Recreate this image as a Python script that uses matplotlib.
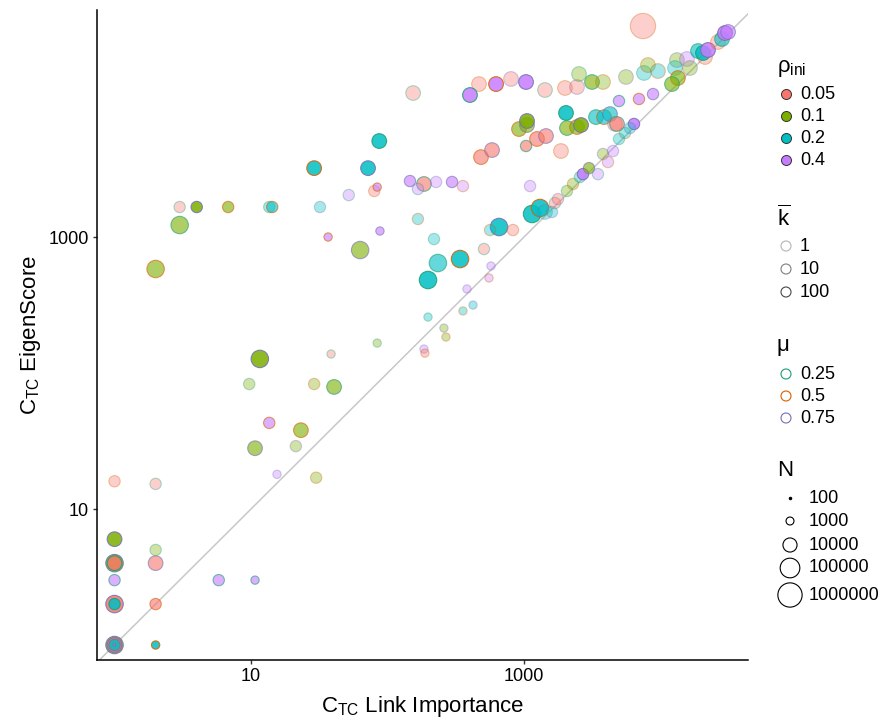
import numpy as np
import matplotlib
matplotlib.use('Agg')
import matplotlib.pyplot as plt
from matplotlib.colors import to_rgba

plt.rcParams['font.family'] = ['Liberation Sans', 'DejaVu Sans']
plt.rcParams['mathtext.default'] = 'regular'

# ---------------- data ----------------
x_link = [11.6, 38.6, 84, 185, 188, 9.7, 29, 40.6, 13.6, 23.2,
          10.7, 21.3, 15.5, 30, 1, 2, 1, 2, 1, 1,
          2, 1, 5.8, 10.7, 1, 1, 2, 1, 1, 1,
          1, 2, 154, 87, 29, 72, 146, 185, 227, 167,
          84, 80, 52, 3, 4, 6.8, 13.6, 14.3, 32, 3,
          2, 36.7, 88, 63, 167, 219, 234, 198, 198, 7440,
          468, 402, 624, 803, 1035, 1425, 1996, 2446, 2530, 3149,
          3791, 5585, 7567, 8095, 9586, 13200, 15630, 12766, 16440, 13420,
          12140, 18830, 21180, 20480, 22280, 26370, 28220, 29700, 31260, 4965,
          6955, 8813, 2031, 3367, 3855, 4266, 4643, 4802, 6393, 919,
          1052, 1052, 2065, 2446, 2617, 1245, 1449, 1035, 484, 583,
          1866, 297, 357, 1107, 340, 509, 564, 656, 830, 1146,
          1310, 1425, 1603, 1686, 1774, 2065, 2285, 2570, 2705, 2993,
          3483, 3791, 4488, 4124, 4965, 5495, 5978, 573, 554, 382,
          423, 357, 259, 268]
y_eigen = [127, 138, 166, 150, 140, 83, 83, 79, 43, 38,
           28, 29, 18, 17, 16, 15.3, 6, 5, 4, 4,
           4, 3, 3, 3, 2, 2, 2, 1, 1, 1,
           1, 1, 11450, 5080, 3210, 3210, 2580, 2455, 2540, 2255,
           2330, 2180, 2035, 1662, 1662, 1662, 1662, 1662, 1662, 1225,
           582, 1000, 1107, 802, 1357, 966, 644, 483, 258, 35600,
           13330, 11070, 13330, 14530, 13800, 12050, 12470, 12680, 15810, 13800,
           13800, 15020, 16080, 18390, 16620, 20010, 20380, 17490, 17490, 14770,
           13330, 23330, 21070, 22550, 23730, 27170, 28580, 31620, 32200, 10000,
           10350, 11250, 8170, 7620, 7620, 8020, 6780, 6780, 6780, 6220,
           6660, 7130, 6330, 6440, 6660, 5260, 5530, 4670, 3870, 4360,
           4290, 2540, 2370, 2370, 689, 816, 1125, 1185, 1125, 1477,
           1635, 1528, 1528, 1778, 1900, 2180, 2455, 2760, 2900, 3210,
           2900, 4080, 4290, 3560, 5260, 5820, 6330, 612, 500, 415,
           316, 286, 214, 184]
rho_ini = [0.1, 0.05, 0.1, 0.4, 0.05, 0.1, 0.1, 0.1, 0.4, 0.1,
           0.1, 0.1, 0.4, 0.1, 0.05, 0.05, 0.1, 0.1, 0.1, 0.05,
           0.05, 0.4, 0.4, 0.4, 0.05, 0.2, 0.05, 0.1, 0.05, 0.2,
           0.4, 0.2, 0.05, 0.2, 0.2, 0.2, 0.4, 0.05, 0.4, 0.4,
           0.4, 0.05, 0.4, 0.05, 0.1, 0.1, 0.2, 0.2, 0.2, 0.1,
           0.1, 0.4, 0.4, 0.1, 0.2, 0.2, 0.2, 0.2, 0.2, 0.05,
           0.05, 0.4, 0.4, 0.05, 0.4, 0.05, 0.05, 0.05, 0.1, 0.1,
           0.1, 0.1, 0.2, 0.1, 0.2, 0.1, 0.4, 0.2, 0.1, 0.1,
           0.1, 0.2, 0.05, 0.2, 0.4, 0.05, 0.2, 0.4, 0.4, 0.4,
           0.4, 0.4, 0.2, 0.2, 0.2, 0.2, 0.05, 0.05, 0.4, 0.1,
           0.1, 0.1, 0.1, 0.1, 0.1, 0.05, 0.05, 0.05, 0.05, 0.05,
           0.05, 0.4, 0.4, 0.4, 0.2, 0.05, 0.2, 0.2, 0.05, 0.2,
           0.2, 0.2, 0.2, 0.05, 0.05, 0.1, 0.1, 0.2, 0.4, 0.1,
           0.4, 0.1, 0.4, 0.4, 0.2, 0.2, 0.2, 0.4, 0.4, 0.4,
           0.2, 0.2, 0.1, 0.1]
k_bar = [100, 1, 1, 1, 1, 1, 1, 10, 10, 10,
         10, 1, 1, 1, 1, 1, 100, 1, 100, 100,
         10, 10, 10, 10, 100, 100, 10, 100, 100, 100,
         100, 100, 1, 100, 100, 100, 10, 10, 1, 1,
         10, 1, 1, 1, 100, 10, 1, 10, 1, 10,
         10, 10, 10, 10, 1, 1, 10, 100, 1, 1,
         1, 100, 100, 1, 100, 1, 1, 1, 1, 10,
         1, 1, 1, 1, 1, 1, 1, 1, 1, 10,
         10, 10, 1, 100, 100, 1, 10, 100, 10, 10,
         10, 10, 100, 10, 10, 10, 1, 10, 100, 10,
         10, 100, 10, 10, 100, 10, 10, 10, 10, 10,
         1, 10, 1, 1, 100, 1, 1, 100, 1, 100,
         100, 1, 1, 1, 1, 1, 1, 1, 100, 10,
         1, 1, 1, 1, 1, 1, 1, 1, 1, 1,
         1, 1, 1, 1]
mu = [0.75, 0.25, 0.25, 0.75, 0.5, 0.25, 0.5, 0.25, 0.5, 0.5,
      0.75, 0.75, 0.75, 0.5, 0.5, 0.25, 0.75, 0.25, 0.75, 0.25,
      0.75, 0.25, 0.25, 0.25, 0.75, 0.25, 0.5, 0.75, 0.75, 0.75,
      0.75, 0.5, 0.25, 0.25, 0.5, 0.75, 0.75, 0.25, 0.75, 0.25,
      0.5, 0.5, 0.25, 0.25, 0.75, 0.5, 0.25, 0.5, 0.75, 0.25,
      0.5, 0.5, 0.75, 0.75, 0.5, 0.25, 0.25, 0.25, 0.25, 0.5,
      0.5, 0.25, 0.5, 0.75, 0.75, 0.25, 0.5, 0.75, 0.25, 0.25,
      0.5, 0.75, 0.25, 0.5, 0.5, 0.75, 0.75, 0.25, 0.75, 0.5,
      0.25, 0.25, 0.5, 0.25, 0.75, 0.5, 0.25, 0.75, 0.75, 0.25,
      0.5, 0.75, 0.25, 0.25, 0.5, 0.75, 0.75, 0.25, 0.75, 0.5,
      0.75, 0.75, 0.25, 0.5, 0.75, 0.5, 0.75, 0.25, 0.5, 0.75,
      0.5, 0.75, 0.5, 0.75, 0.5, 0.25, 0.5, 0.75, 0.5, 0.25,
      0.5, 0.75, 0.75, 0.25, 0.75, 0.25, 0.5, 0.25, 0.75, 0.75,
      0.25, 0.75, 0.75, 0.5, 0.25, 0.5, 0.75, 0.75, 0.5, 0.75,
      0.75, 0.5, 0.75, 0.5]
N = [30000, 1000, 1000, 1000, 1000, 3000, 3000, 10000, 3000, 10000,
     10000, 3000, 1000, 3000, 3000, 3000, 10000, 3000, 30000, 10000,
     10000, 3000, 3000, 1000, 30000, 3000, 3000, 30000, 10000, 3000,
     100, 1000, 10000, 10000, 10000, 10000, 3000, 10000, 3000, 3000,
     1000, 3000, 3000, 3000, 3000, 3000, 3000, 3000, 3000, 30000,
     30000, 1000, 1000, 30000, 3000, 3000, 30000, 30000, 1000, 1000000,
     10000, 10000, 10000, 10000, 10000, 10000, 10000, 10000, 10000, 10000,
     10000, 10000, 10000, 10000, 10000, 10000, 10000, 10000, 10000, 10000,
     10000, 10000, 10000, 10000, 10000, 10000, 10000, 10000, 10000, 3000,
     3000, 3000, 10000, 10000, 10000, 10000, 10000, 10000, 3000, 10000,
     10000, 10000, 10000, 10000, 10000, 10000, 10000, 3000, 10000, 10000,
     10000, 3000, 3000, 3000, 30000, 3000, 3000, 30000, 3000, 30000,
     30000, 10000, 3000, 3000, 3000, 3000, 3000, 3000, 3000, 3000,
     3000, 3000, 3000, 3000, 3000, 3000, 3000, 1000, 1000, 1000,
     1000, 1000, 1000, 1000]

rho_levels = [0.05, 0.1, 0.2, 0.4]
rho_colors = ['#F8766D', '#7CAE00', '#00BFC4', '#C77CFF']
k_levels = [1, 10, 100]
k_alpha = [0.35, 0.6, 0.85]
mu_levels = [0.25, 0.5, 0.75]
mu_colors = ['#1B9E77', '#D95F02', '#7570B3']
N_levels = [100, 1000, 10000, 100000, 1000000]
N_diam_px = [2.5, 8.3, 14.7, 20.5, 25.3]

DPI = 100
PX2PT = 72.0 / DPI


def size_of(n):
    d = np.interp(np.log10(n), np.log10(N_levels), N_diam_px)
    d = np.maximum(d, 1.5)
    return (d * PX2PT) ** 2


# ---------------- figure ----------------
fig = plt.figure(figsize=(8.85, 7.25), dpi=DPI)
ax = fig.add_axes([97 / 885, 65 / 725, 651 / 885, 650 / 725])
ax.set_xscale('log')
ax.set_yscale('log')
ax.set_xlim(0.744, 43760)
ax.set_ylim(0.776, 46700)

ax.axline((1, 1), (10, 10), color='#c8c8c8', lw=1.1, zorder=1)

x = np.array(x_link, float)
y = np.array(y_eigen, float)
nn = np.array(N, float)
face = []
edge = []
for r, k, m in zip(rho_ini, k_bar, mu):
    a = k_alpha[k_levels.index(k)]
    face.append(to_rgba(rho_colors[rho_levels.index(r)], a))
    edge.append(to_rgba(mu_colors[mu_levels.index(m)], a))
face = np.array(face)
edge = np.array(edge)
order = np.argsort(-nn, kind='stable')
ax.scatter(x[order], y[order], s=size_of(nn[order]), c=face[order],
           edgecolors=edge[order], linewidths=0.8, zorder=2)

for s in ['top', 'right']:
    ax.spines[s].set_visible(False)
for s in ['left', 'bottom']:
    ax.spines[s].set_color('black')
    ax.spines[s].set_linewidth(1.1)

ax.set_xticks([10, 1000])
ax.set_xticklabels(['10', '1000'])
ax.set_yticks([10, 1000])
ax.set_yticklabels(['10', '1000'])
ax.minorticks_off()
ax.tick_params(axis='both', length=3, width=1, color='#333333',
               labelsize=13, pad=3, labelcolor='black')

ax.set_xlabel('C$_{TC}$ Link Importance', fontsize=16, labelpad=6)
ax.set_ylabel('C$_{TC}$ EigenScore', fontsize=16, labelpad=4)

# ---------------- legends ----------------
lax = fig.add_axes([0, 0, 1, 1], facecolor='none')
lax.set_xlim(0, 885)
lax.set_ylim(725, 0)
lax.axis('off')

title_x = 777
key_x = 786
lab_x = 800
fs_t = 16
fs_l = 13

lax.text(title_x, 68, '$ρ_{ini}$', fontsize=fs_t, va='center', ha='left')
for i, (lv, col) in enumerate(zip(rho_levels, rho_colors)):
    yy = 94 + 22 * i
    lax.scatter([key_x], [yy], s=(10 * PX2PT) ** 2, c=[col],
                edgecolors='#333333', linewidths=0.7)
    lax.text(lab_x, yy, str(lv), fontsize=fs_l, va='center', ha='left')

lax.text(title_x, 218, r'$\overline{k}$', fontsize=fs_t, va='center', ha='left')
for i, (lv, a) in enumerate(zip(k_levels, k_alpha)):
    yy = 246 + 23 * i
    lax.scatter([key_x], [yy], s=(10 * PX2PT) ** 2, facecolors='none',
                edgecolors=[to_rgba('black', a * 0.85)], linewidths=0.8)
    lax.text(lab_x, yy, str(lv), fontsize=fs_l, va='center', ha='left')

lax.text(title_x, 345, 'μ', fontsize=fs_t, va='center', ha='left')
for i, (lv, col) in enumerate(zip(mu_levels, mu_colors)):
    yy = 374 + 22 * i
    lax.scatter([key_x], [yy], s=(10 * PX2PT) ** 2, facecolors='none',
                edgecolors=[col], linewidths=0.8)
    lax.text(lab_x, yy, str(lv), fontsize=fs_l, va='center', ha='left')

lax.text(title_x, 470, 'N', fontsize=fs_t, va='center', ha='left')
n_y = [498, 521, 545, 568, 595]
for lv, yy in zip(N_levels, n_y):
    lax.scatter([790], [yy], s=size_of(lv) * 0.92,
                facecolors='none' if lv > 100 else 'black',
                edgecolors='black', linewidths=0.8)
    lax.text(809, yy, str(lv), fontsize=fs_l, va='center', ha='left')

fig.savefig('out.png', dpi=DPI)
